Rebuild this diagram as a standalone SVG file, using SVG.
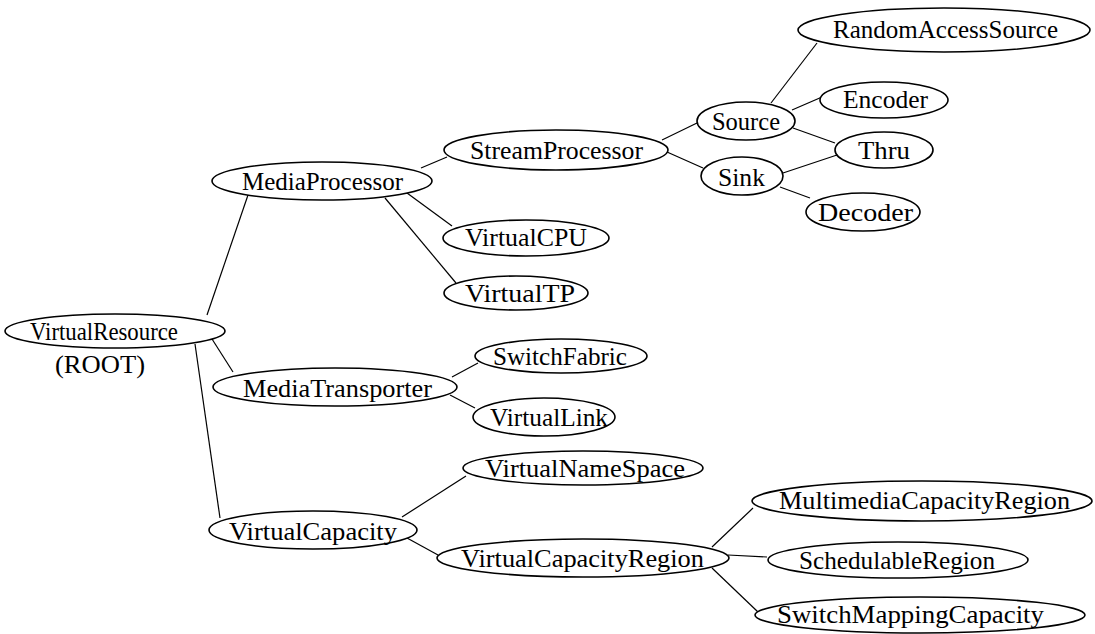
<svg xmlns="http://www.w3.org/2000/svg" width="1095" height="634" viewBox="0 0 1095 634">
  <style>
    .node ellipse { fill: #ffffff; stroke: #000000; stroke-width: 1.6; }
    .node text { font-family: "Liberation Serif", "DejaVu Serif", serif; font-size: 25px; fill: #000000; }
    #connectors line { stroke: #000000; stroke-width: 1.2; }
  </style>
  <rect width="1095" height="634" fill="#ffffff"/>

  <!-- tree edges -->
  <g id="connectors">
    <line x1="207" y1="315" x2="248" y2="195"/>
    <line x1="212" y1="339" x2="233" y2="372"/>
    <line x1="195" y1="344" x2="220" y2="518"/>
    <line x1="421" y1="168" x2="447" y2="157"/>
    <line x1="407" y1="193" x2="452" y2="226"/>
    <line x1="385" y1="198" x2="456" y2="283"/>
    <line x1="662" y1="140" x2="697" y2="123"/>
    <line x1="667" y1="152" x2="703" y2="168"/>
    <line x1="771" y1="103" x2="817" y2="43"/>
    <line x1="792" y1="110" x2="822" y2="97"/>
    <line x1="793" y1="128" x2="835" y2="143"/>
    <line x1="783" y1="173" x2="837" y2="155"/>
    <line x1="780" y1="187" x2="810" y2="198"/>
    <line x1="452" y1="377" x2="478" y2="363"/>
    <line x1="450" y1="395" x2="475" y2="408"/>
    <line x1="402" y1="517" x2="466" y2="476"/>
    <line x1="407" y1="538" x2="438" y2="555"/>
    <line x1="712" y1="547" x2="753" y2="508"/>
    <line x1="728" y1="555" x2="767" y2="557"/>
    <line x1="712" y1="568" x2="758" y2="612"/>
  </g>

  <g id="VirtualResource" class="node">
    <ellipse cx="115" cy="331" rx="110" ry="17"/>
    <text x="30" y="340" textLength="148" lengthAdjust="spacingAndGlyphs">VirtualResource</text>
    <text x="55" y="373" textLength="90" lengthAdjust="spacingAndGlyphs">(ROOT)</text>
  </g>

  <g id="MediaProcessor" class="node">
    <ellipse cx="322" cy="181" rx="110" ry="19"/>
    <text x="242" y="190" textLength="161" lengthAdjust="spacingAndGlyphs">MediaProcessor</text>
  </g>

  <g id="StreamProcessor" class="node">
    <ellipse cx="556" cy="150" rx="112" ry="20"/>
    <text x="470" y="159" textLength="173" lengthAdjust="spacingAndGlyphs">StreamProcessor</text>
  </g>

  <g id="Source" class="node">
    <ellipse cx="746" cy="121" rx="49" ry="19"/>
    <text x="712" y="130" textLength="68" lengthAdjust="spacingAndGlyphs">Source</text>
  </g>

  <g id="Sink" class="node">
    <ellipse cx="742" cy="176" rx="41" ry="19"/>
    <text x="718" y="186" textLength="47" lengthAdjust="spacingAndGlyphs">Sink</text>
  </g>

  <g id="RandomAccessSource" class="node">
    <ellipse cx="944" cy="30" rx="146" ry="22"/>
    <text x="833" y="38" textLength="225" lengthAdjust="spacingAndGlyphs">RandomAccessSource</text>
  </g>

  <g id="Encoder" class="node">
    <ellipse cx="884" cy="100" rx="64" ry="18"/>
    <text x="843" y="108" textLength="85" lengthAdjust="spacingAndGlyphs">Encoder</text>
  </g>

  <g id="Thru" class="node">
    <ellipse cx="884" cy="150" rx="49" ry="18"/>
    <text x="858" y="159" textLength="52" lengthAdjust="spacingAndGlyphs">Thru</text>
  </g>

  <g id="Decoder" class="node">
    <ellipse cx="863" cy="212" rx="57" ry="19"/>
    <text x="818" y="221" textLength="95" lengthAdjust="spacingAndGlyphs">Decoder</text>
  </g>

  <g id="VirtualCPU" class="node">
    <ellipse cx="526" cy="238" rx="83" ry="18"/>
    <text x="465" y="246" textLength="122" lengthAdjust="spacingAndGlyphs">VirtualCPU</text>
  </g>

  <g id="VirtualTP" class="node">
    <ellipse cx="516" cy="293" rx="72" ry="17"/>
    <text x="465" y="302" textLength="110" lengthAdjust="spacingAndGlyphs">VirtualTP</text>
  </g>

  <g id="MediaTransporter" class="node">
    <ellipse cx="335" cy="387" rx="122" ry="19"/>
    <text x="243" y="397" textLength="189" lengthAdjust="spacingAndGlyphs">MediaTransporter</text>
  </g>

  <g id="SwitchFabric" class="node">
    <ellipse cx="561" cy="356" rx="86" ry="17"/>
    <text x="493" y="365" textLength="134" lengthAdjust="spacingAndGlyphs">SwitchFabric</text>
  </g>

  <g id="VirtualLink" class="node">
    <ellipse cx="544" cy="417" rx="71" ry="19"/>
    <text x="490" y="426" textLength="118" lengthAdjust="spacingAndGlyphs">VirtualLink</text>
  </g>

  <g id="VirtualCapacity" class="node">
    <ellipse cx="313" cy="530" rx="104" ry="19"/>
    <text x="229" y="540" textLength="168" lengthAdjust="spacingAndGlyphs">VirtualCapacity</text>
  </g>

  <g id="VirtualNameSpace" class="node">
    <ellipse cx="583" cy="468" rx="120" ry="17"/>
    <text x="485" y="477" textLength="200" lengthAdjust="spacingAndGlyphs">VirtualNameSpace</text>
  </g>

  <g id="VirtualCapacityRegion" class="node">
    <ellipse cx="583" cy="558" rx="146" ry="19"/>
    <text x="461" y="567" textLength="243" lengthAdjust="spacingAndGlyphs">VirtualCapacityRegion</text>
  </g>

  <g id="MultimediaCapacityRegion" class="node">
    <ellipse cx="922" cy="501" rx="170" ry="20"/>
    <text x="779" y="509" textLength="291" lengthAdjust="spacingAndGlyphs">MultimediaCapacityRegion</text>
  </g>

  <g id="SchedulableRegion" class="node">
    <ellipse cx="898" cy="560" rx="130" ry="18"/>
    <text x="799" y="569" textLength="196" lengthAdjust="spacingAndGlyphs">SchedulableRegion</text>
  </g>

  <g id="SwitchMappingCapacity" class="node">
    <ellipse cx="920" cy="615" rx="165" ry="18"/>
    <text x="777" y="623" textLength="267" lengthAdjust="spacingAndGlyphs">SwitchMappingCapacity</text>
  </g>
</svg>
